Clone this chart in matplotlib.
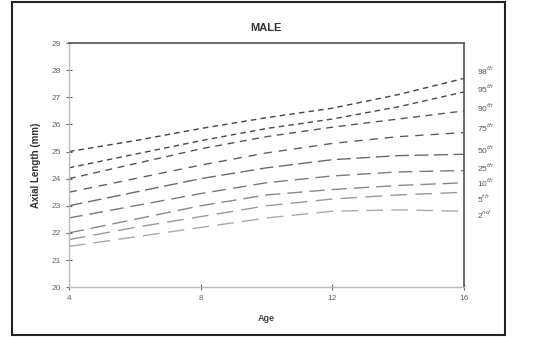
import numpy as np
import matplotlib.pyplot as plt
from matplotlib.patches import Rectangle

plt.rcParams['font.family'] = ['Liberation Sans', 'DejaVu Sans']

# Axial length percentiles (mm) by age
ages = [4, 6, 8, 10, 12, 14, 16]
p98 = [25.0, 25.4, 25.85, 26.25, 26.6, 27.1, 27.7]
p95 = [24.4, 24.9, 25.4, 25.85, 26.2, 26.65, 27.2]
p90 = [24.0, 24.55, 25.1, 25.55, 25.9, 26.2, 26.5]
p75 = [23.5, 24.0, 24.5, 24.95, 25.3, 25.55, 25.7]
p50 = [23.0, 23.5, 24.0, 24.4, 24.7, 24.85, 24.9]
p25 = [22.55, 23.0, 23.45, 23.85, 24.1, 24.25, 24.3]
p10 = [22.0, 22.5, 23.0, 23.4, 23.6, 23.75, 23.85]
p5 = [21.75, 22.2, 22.6, 23.0, 23.25, 23.4, 23.5]
p2 = [21.5, 21.85, 22.2, 22.55, 22.8, 22.85, 22.8]

series = [p98, p95, p90, p75, p50, p25, p10, p5, p2]
labels = ['98$^{th}$', '95$^{th}$', '90$^{th}$', '75$^{th}$', '50$^{th}$',
          '25$^{th}$', '10$^{th}$', '5$^{th}$', '2$^{nd}$']
label_y = [27.97, 27.3, 26.6, 25.87, 25.06, 24.4, 23.84, 23.25, 22.66]

fig = plt.figure(figsize=(5.55, 3.37), dpi=100)
ax = fig.add_axes([0.124, 0.148, 0.712, 0.724])

colors = ['#444444', '#4a4a4a', '#555555', '#5e5e5e', '#6a6a6a',
          '#7a7a7a', '#888888', '#999999', '#aaaaaa']
dashes = [(4, 3), (4, 3), (5, 4), (6, 5), (10, 4), (10, 5), (11, 5), (12, 6), (12, 6)]
for vals, c, d in zip(series, colors, dashes):
    ax.plot(ages, vals, color=c, lw=1.0, dashes=d)

for txt, y in zip(labels, label_y):
    ax.text(16.4, y, txt, fontsize=6, color='#555555', va='center', ha='left')

ax.set_xlim(4, 16)
ax.set_ylim(20, 29)
ax.set_xticks([4, 8, 12, 16])
ax.set_yticks(range(20, 30))
ax.tick_params(axis='both', labelsize=6, colors='#666666', direction='inout', length=4)
for s in ['top', 'right']:
    ax.spines[s].set_color('#555555')
    ax.spines[s].set_linewidth(1.2)
for s in ['left', 'bottom']:
    ax.spines[s].set_color('#bbbbbb')
    ax.spines[s].set_linewidth(1.0)

ax.set_title('MALE', fontsize=8, fontweight='bold', color='#333333', pad=9)
ax.set_xlabel('Age', fontsize=6.5, fontweight='bold', color='#444444', labelpad=9)
ax.set_ylabel('Axial Length (mm)', fontsize=7, fontweight='bold', color='#333333', labelpad=8)

fig.patches.append(Rectangle((0.022, 0.006), 0.888, 0.988, transform=fig.transFigure,
                             fill=False, edgecolor='#222222', lw=1.5))

fig.savefig('out.png', dpi=100)
